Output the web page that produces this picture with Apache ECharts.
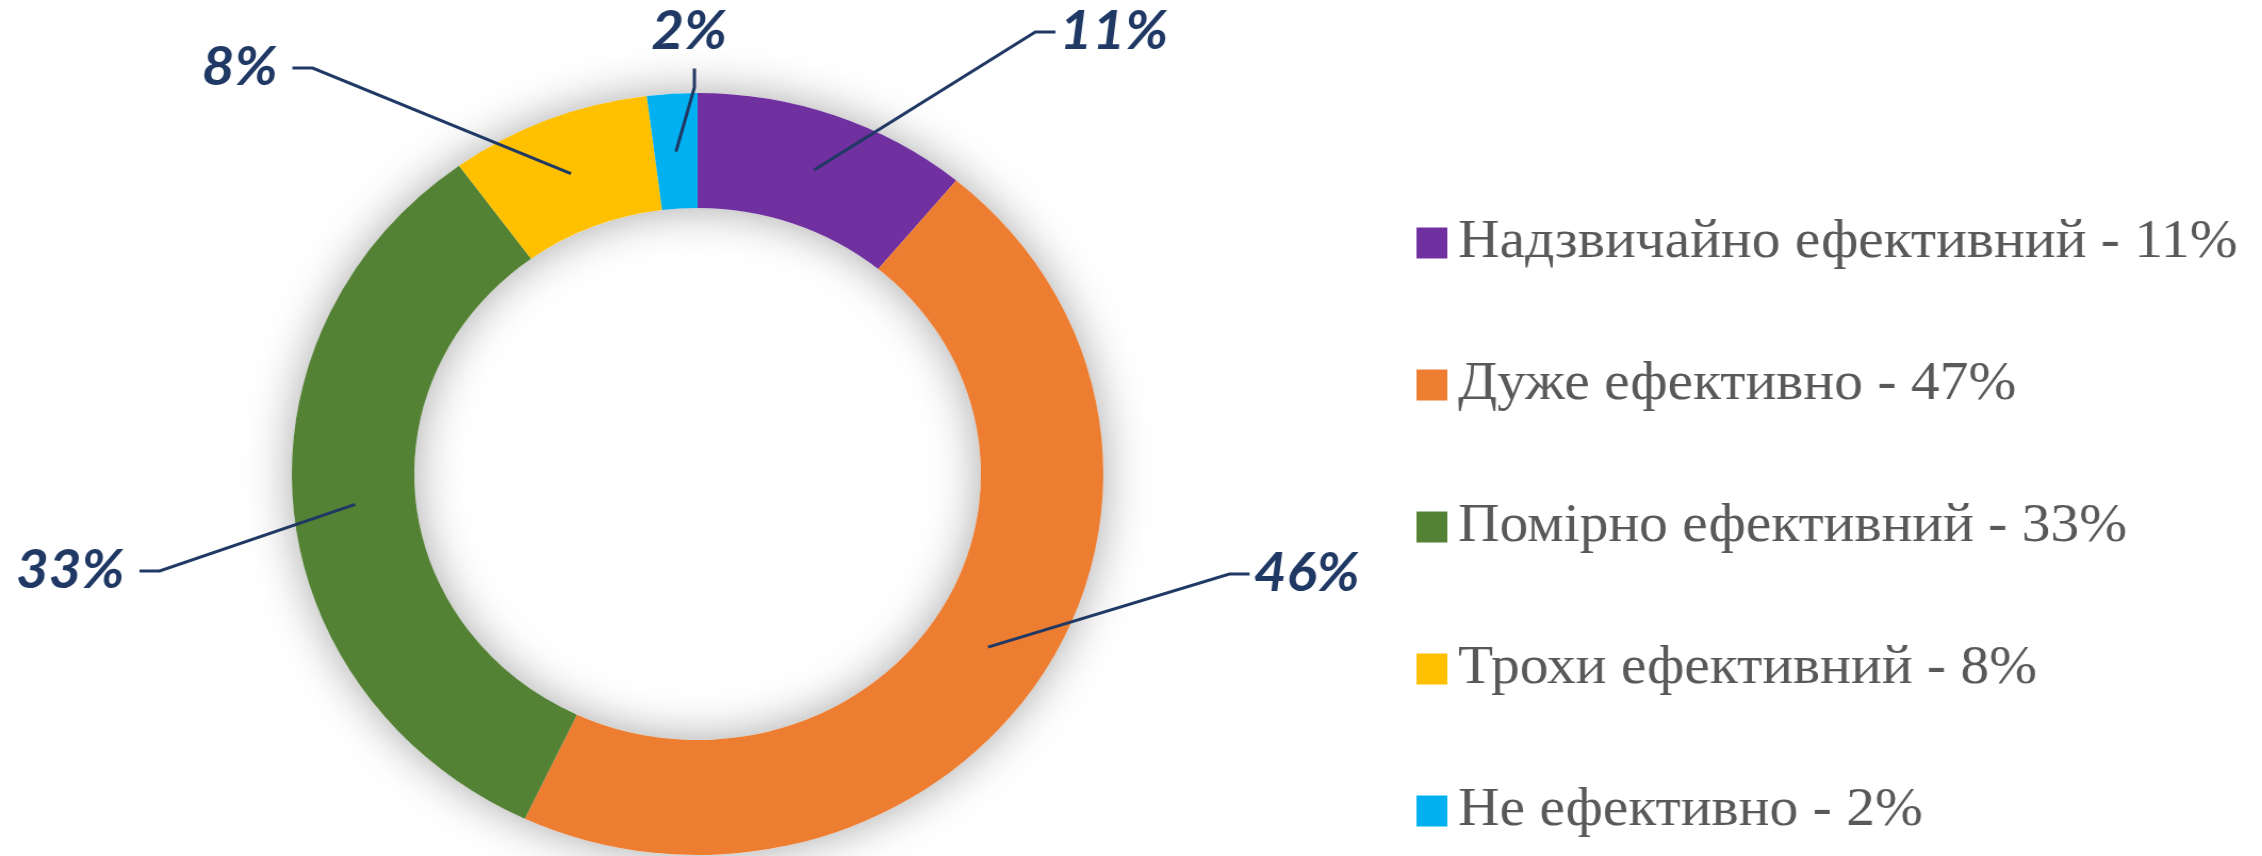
<!DOCTYPE html>
<html>
<head>
<meta charset="utf-8">
<script src="https://cdn.jsdelivr.net/npm/echarts@6/dist/echarts.min.js"></script>
<style>
  html, body { margin: 0; padding: 0; background: #fff; overflow: hidden; }
  /* the source picture is stretched a little in x, so the chart is drawn narrower and scaled back */
  #main { width: 2124px; height: 856px; transform: scaleX(1.065); transform-origin: 0 0; }
</style>
</head>
<body>
<div id="main"></div>
<script>
  var categories = ['Надзвичайно ефективний - 11%', 'Дуже ефективно - 47%', 'Помірно ефективний - 33%', 'Трохи ефективний - 8%', 'Не ефективно - 2%'];
  var shares = [11, 46, 33, 8, 2];
  var colors = ['#7030A0', '#ED7D31', '#548235', '#FFC000', '#00B0F0'];

  // where each percent label sits (unscaled px)
  var labelPos = [[1051, 32], [1232, 574], [71, 571], [230, 68], [652, 32]];

  var total = shares.reduce(function (a, b) { return a + b; }, 0);

  var chart = echarts.init(document.getElementById('main'));
  chart.setOption({
    animation: false,
    color: colors,
    legend: {
      orient: 'vertical',
      left: 1325,
      top: 211,
      itemGap: 88,
      itemWidth: 29,
      itemHeight: 31,
      icon: 'rect',
      data: categories,
      textStyle: {
        fontFamily: 'Liberation Serif',
        fontSize: 54,
        lineHeight: 52,
        color: '#595959',
        padding: [0, 0, 0, 5]
      }
    },
    series: [
      {
        // soft shadow under the ring
        type: 'pie',
        silent: true,
        center: [655, 474],
        radius: [266, 381],
        label: { show: false },
        labelLine: { show: false },
        itemStyle: {
          color: '#fff',
          shadowBlur: 45,
          shadowColor: 'rgba(0,0,0,0.35)'
        },
        data: [{ value: total, name: 'bg' }]
      },
      {
        type: 'pie',
        silent: true,
        center: [655, 474],
        radius: [266, 381],
        label: { show: false },
        labelLine: { show: false },
        data: categories.map(function (c, i) {
          return { name: c, value: shares[i] };
        })
      },
      {
        // invisible pie to mid ring, only carries the labels
        type: 'pie',
        silent: true,
        z: 5,
        center: [655, 474],
        radius: [0, 323],
        avoidLabelOverlap: false,
        itemStyle: { color: 'rgba(0,0,0,0)' },
        label: {
          show: true,
          position: 'outside',
          formatter: '{c}%',
          fontFamily: 'Lato',
          fontWeight: 'bold',
          fontStyle: 'italic',
          fontSize: 53,
          color: '#1F3864',
          backgroundColor: 'rgba(255,255,255,0)',
          padding: [10, 14, 10, 4]
        },
        labelLine: {
          show: true,
          length: 10,
          length2: 19,
          lineStyle: { color: '#1F3864', width: 3 }
        },
        labelLayout: function (p) {
          var pos = labelPos[p.dataIndex];
          return { x: pos[0], y: pos[1], align: 'center', verticalAlign: 'middle' };
        },
        data: categories.map(function (c, i) {
          return { name: c, value: shares[i] };
        })
      }
    ]
  });
</script>
</body>
</html>
